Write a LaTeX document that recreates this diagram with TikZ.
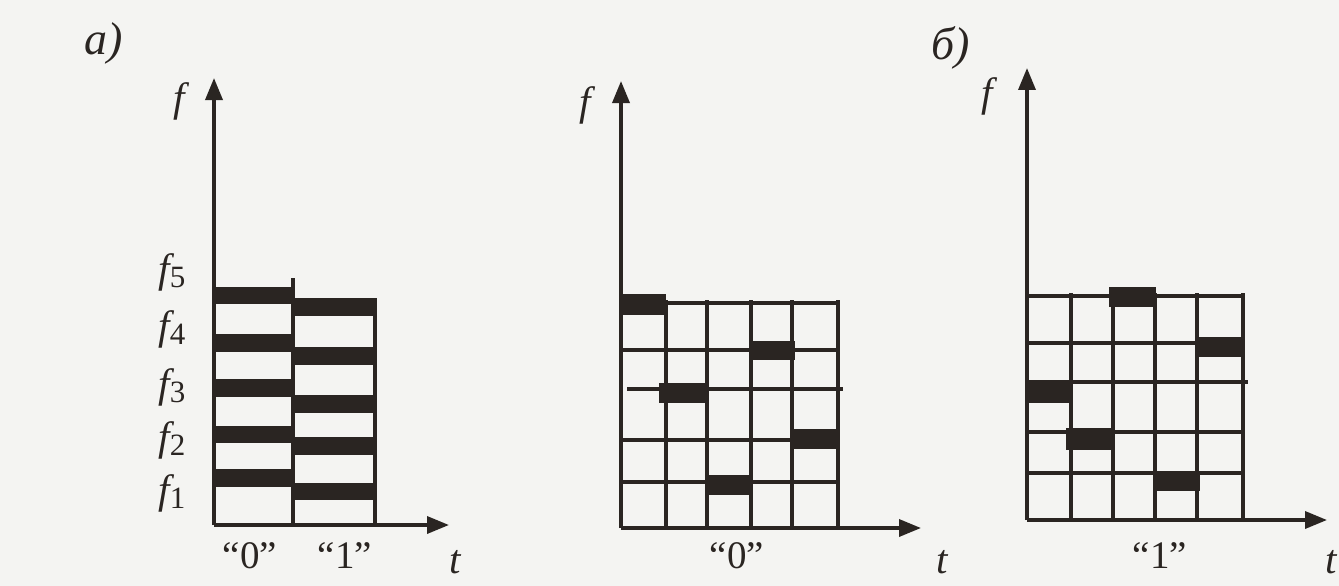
\documentclass[tikz,border=0pt]{standalone}
\usepackage{fontspec}
\setmainfont{Liberation Serif}
\usetikzlibrary{arrows.meta}
\definecolor{ink}{HTML}{2A2522}
\definecolor{paper}{HTML}{F4F4F2}
\newcommand{\fsub}[1]{f\raisebox{-0.3ex}{\fontsize{31}{31}\selectfont\upshape #1}}
\begin{document}
\begin{tikzpicture}[x=1pt,y=-1pt,
  axis/.style={draw=ink,line width=3.5pt,-{Triangle[length=22pt,width=17pt]}},
  gridline/.style={draw=ink,line width=3.5pt},
  bar/.style={fill=ink},
  lbl/.style={text=ink,font=\fontsize{41}{44}\selectfont\itshape,inner sep=0pt},
  panel/.style={text=ink,font=\fontsize{46}{50}\selectfont\itshape,inner sep=0pt},
  captext/.style={text=ink,font=\fontsize{39}{42}\selectfont,inner sep=0pt}]
\fill[paper] (0,0) rectangle (1339,586);
\useasboundingbox (0,0) rectangle (1339,586);

% ---------- panel a ----------
\coordinate (oA) at (214,525);
\coordinate (fA) at (214,78);
\coordinate (tA) at (449,525);
\fill[bar] (214,287) rectangle (293,304);
\fill[bar] (214,334) rectangle (293,352);
\fill[bar] (214,379) rectangle (293,397);
\fill[bar] (214,426) rectangle (293,443);
\fill[bar] (214,469) rectangle (293,487);
\fill[bar] (293,298) rectangle (375,316);
\fill[bar] (293,347) rectangle (375,365);
\fill[bar] (293,395) rectangle (375,413);
\fill[bar] (293,437) rectangle (375,455);
\fill[bar] (293,483) rectangle (375,500);
\coordinate (dA1) at (293,278); \coordinate (dA0) at (293,525);
\coordinate (eA1) at (375,298); \coordinate (eA0) at (375,525);
\draw[gridline] (dA0) -- (dA1);
\draw[gridline] (eA0) -- (eA1);
\draw[axis] (oA) -- (fA);
\draw[axis] (oA) -- (tA);
\node[panel] (labA) at (104,43) {а)};
\node[lbl] (fLA) at (179,101) {f};
\node[lbl] (f5) at (172,272) {\fsub{5}};
\node[lbl] (f4) at (172,329) {\fsub{4}};
\node[lbl] (f3) at (172,387) {\fsub{3}};
\node[lbl] (f2) at (172,440) {\fsub{2}};
\node[lbl] (f1) at (172,493) {\fsub{1}};
\node[captext] (c0A) at (250,556) {“0”};
\node[captext] (c1A) at (345,556) {“1”};
\node[lbl] (tLA) at (455,562) {t};

% ---------- panel b, "0" ----------
\coordinate (oB) at (621,528);
\coordinate (fB) at (621,81);
\coordinate (tB) at (921,528);
\foreach \x in {666,707,751,792,838} \draw[gridline] (\x,528) -- (\x,300);
\draw[gridline] (666,303) -- (838,303);
\draw[gridline] (621,350) -- (838,350);
\draw[gridline] (627,389) -- (843,389);
\draw[gridline] (621,440) -- (838,440);
\draw[gridline] (621,482) -- (838,482);
\fill[bar] (621,294) rectangle (666,315);
\fill[bar] (751,341) rectangle (795,360);
\fill[bar] (659,383) rectangle (706,403);
\fill[bar] (793,429) rectangle (838,449);
\fill[bar] (707,475) rectangle (752,495);
\draw[axis] (oB) -- (fB);
\draw[axis] (oB) -- (tB);
\node[lbl] (fLB) at (585,105) {f};
\node[captext] (c0B) at (737,556) {“0”};
\node[lbl] (tLB) at (942,562) {t};

% ---------- panel c, "1" ----------
\coordinate (oC) at (1027,520);
\coordinate (fC) at (1027,68);
\coordinate (tC) at (1327,520);
\foreach \x in {1071,1113,1155,1197,1243} \draw[gridline] (\x,520) -- (\x,293);
\draw[gridline] (1027,296) -- (1243,296);
\draw[gridline] (1027,343) -- (1243,343);
\draw[gridline] (1027,382) -- (1248,382);
\draw[gridline] (1027,432) -- (1243,432);
\draw[gridline] (1027,473) -- (1243,473);
\fill[bar] (1109,287) rectangle (1156,307);
\fill[bar] (1197,337) rectangle (1243,357);
\fill[bar] (1027,381) rectangle (1071,403);
\fill[bar] (1066,428) rectangle (1112,450);
\fill[bar] (1155,471) rectangle (1200,491);
\draw[axis] (oC) -- (fC);
\draw[axis] (oC) -- (tC);
\node[panel] (labC) at (951,48) {б)};
\node[lbl] (fLC) at (987,96) {f};
\node[captext] (c1C) at (1160,556) {“1”};
\node[lbl] (tLC) at (1331,562) {t};
\end{tikzpicture}
\end{document}
